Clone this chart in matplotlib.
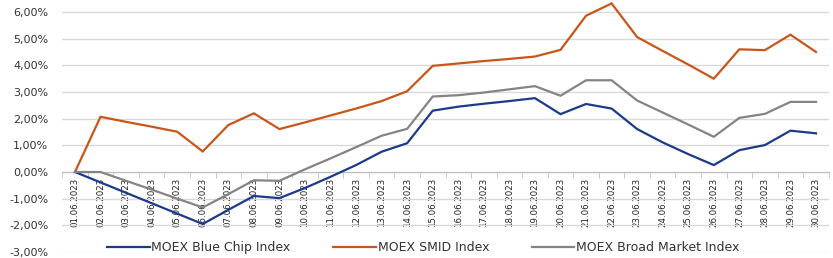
import matplotlib
matplotlib.use("Agg")
import matplotlib.pyplot as plt
from matplotlib import font_manager
from matplotlib.ticker import FixedLocator, FuncFormatter

dates = [f"{d:02d}.06.2023" for d in range(1, 31)]

blue_chip = [0.00, -0.39, -0.78, -1.17, -1.56, -1.95, -1.42, -0.90, -0.98, -0.60,
             -0.18, 0.26, 0.76, 1.08, 2.30, 2.45, 2.56, 2.66, 2.77, 2.17,
             2.55, 2.38, 1.61, 1.11, 0.67, 0.26, 0.82, 1.01, 1.55, 1.45]
smid = [0.00, 2.07, 1.88, 1.70, 1.51, 0.77, 1.76, 2.20, 1.61, 1.86,
        2.12, 2.38, 2.66, 3.03, 3.98, 4.07, 4.16, 4.24, 4.33, 4.58,
        5.86, 6.32, 5.06, 4.54, 4.03, 3.50, 4.60, 4.57, 5.15, 4.50]
broad = [0.00, 0.00, -0.33, -0.66, -1.00, -1.33, -0.83, -0.31, -0.33, 0.10,
         0.51, 0.93, 1.36, 1.62, 2.83, 2.88, 2.98, 3.10, 3.22, 2.86,
         3.44, 3.44, 2.68, 2.23, 1.78, 1.32, 2.03, 2.18, 2.63, 2.63]

series_names = ["MOEX Blue Chip Index", "MOEX SMID Index", "MOEX Broad Market Index"]
colors = ["#1b3a8a", "#c8561a", "#848484"]
y_ticks = [-3, -2, -1, 0, 1, 2, 3, 4, 5, 6]

names = {f.name for f in font_manager.fontManager.ttflist}
if "Liberation Sans Narrow" in names:
    xfont, xsize = ["Liberation Sans Narrow", "DejaVu Sans"], 8.4
else:
    xfont, xsize = ["DejaVu Sans"], 6.2

W, H = 833, 258
fig = plt.figure(figsize=(W / 100, H / 100), dpi=100)
ax = fig.add_axes([62.2 / W, (H - 252) / H, 766.6 / W, 252 / H])

x = list(range(len(dates)))
for vals, c, n in zip([blue_chip, smid, broad], colors, series_names):
    ax.plot(x, vals, color=c, lw=1.6, label=n, solid_joinstyle="miter", zorder=3)

ax.set_xlim(-0.5, len(dates) - 0.5)
ax.set_ylim(-3, 6.45)
ax.set_yticks(y_ticks)
ax.yaxis.set_major_formatter(FuncFormatter(lambda v, p: f"{v:.2f}%".replace(".", ",")))
ax.grid(axis="y", color="#d9d9d9", lw=1.0, zorder=0)
ax.tick_params(axis="y", length=0, pad=10, labelsize=8, labelcolor="#333333")
for lab in ax.get_yticklabels():
    lab.set_fontfamily("DejaVu Sans")

for s in ["top", "right", "left"]:
    ax.spines[s].set_visible(False)
ax.spines["bottom"].set_position(("data", 0))
ax.spines["bottom"].set_color("#bfbfbf")
ax.spines["bottom"].set_zorder(2)

ax.set_xticks(x)
ax.set_xticklabels(dates, rotation=90, fontsize=xsize, family=xfont, color="#222222")
ax.xaxis.set_minor_locator(FixedLocator([i + 0.5 for i in range(-1, len(dates))]))
ax.tick_params(axis="x", which="major", length=0, pad=4)
ax.tick_params(axis="x", which="minor", length=4, color="#bfbfbf", direction="out")

leg = fig.legend(loc="center", bbox_to_anchor=(0.508, 0.040), ncol=3,
                 frameon=True, fancybox=False, edgecolor="none", facecolor="white",
                 framealpha=1, fontsize=9, handlelength=3.4, handletextpad=0.15,
                 columnspacing=3.4, borderpad=0.05)
for t in leg.get_texts():
    t.set_color("#333333")

fig.savefig("out.png", dpi=100)
